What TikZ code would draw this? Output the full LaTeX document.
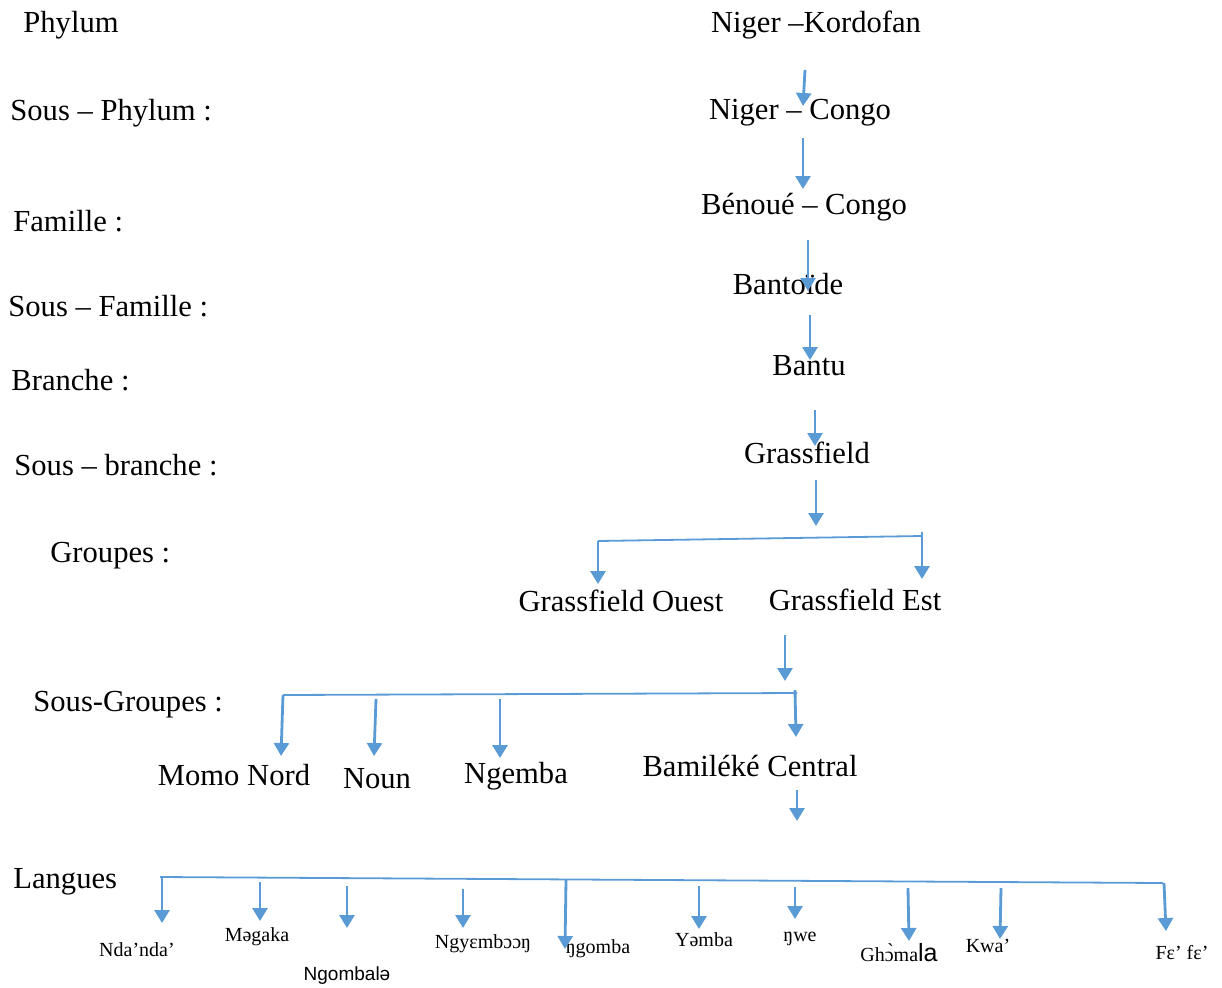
\documentclass[tikz,border=0pt]{standalone}
\usepackage{fontspec}
\setmainfont{Liberation Serif}
\newfontfamily\sansf{Liberation Sans}
\usetikzlibrary{arrows.meta}
\definecolor{arrblue}{RGB}{91,155,213}
\begin{document}
\begin{tikzpicture}[x=0.5pt,y=-0.5pt,
  lbl/.style={font=\fontsize{15.3}{18}\selectfont, inner sep=0, anchor=west, yshift=-1.5pt},
  main/.style={font=\fontsize{15.3}{18}\selectfont, inner sep=0, yshift=-1.5pt},
  small/.style={font=\fontsize{10}{12}\selectfont, inner sep=0},
  arr/.style={draw=arrblue, line width=1.4pt, -{Triangle[width=7.5pt,length=6.5pt]}},
  ln/.style={draw=arrblue, line width=0.9pt}]
\useasboundingbox (0,0) rectangle (1222,987);
% level labels
\node[lbl] (lPhylum) at (23,22) {Phylum};
\node[lbl] (lSousPhylum) at (10,110) {Sous – Phylum :};
\node[lbl] (lFamille) at (13,218) {Famille :};
\node[lbl] (lSousFamille) at (8,303) {Sous – Famille :};
\node[lbl] (lBranche) at (11,377) {Branche :};
\node[lbl] (lSousBranche) at (14,462) {Sous – branche :};
\node[lbl] (lGroupes) at (50,553) {Groupes :};
\node[lbl] (lSousGroupes) at (33,702) {Sous-Groupes :};
\node[lbl] (lLangues) at (13,879) {Langues};
% main column
\node[main] (nk) at (816,22) {Niger –Kordofan};
\node[main] (nc) at (800,110) {Niger – Congo};
\node[main] (bc) at (804,204) {Bénoué – Congo};
\node[main] (bd) at (788,281) {Bantoïde};
\node[main] (bt) at (809,363) {Bantu};
\node[main] (gf) at (807,450) {Grassfield};
\node[main] (go) at (621,598) {Grassfield Ouest};
\node[main] (ge) at (855,597) {Grassfield Est};
\node[main] (mn) at (234,772) {Momo Nord};
\node[main] (no) at (377,776) {Noun};
\node[main] (ng) at (516,773) {Ngemba};
\node[main] (bm) at (750,763) {Bamiléké Central};
% languages
\node[small] (l1) at (137,950) {Nda’nda’};
\node[small] (l2) at (257,937) {Məgaka};
\node[small,font=\sansf\fontsize{9.5}{11}\selectfont] (l3) at (347,976) {Ngombalə};
\node[small] (l4) at (483,944) {Ngyɛmbɔɔŋ};
\node[small] (l5) at (598,949) {ŋgomba};
\node[small] (l6) at (704,940) {Yəmba};
\node[small] (l7) at (800,939) {ŋwe};
\node[small] (l8) at (899,953) {Ghɔ̀ma{\sansf\fontsize{12.5}{14}\selectfont la}};
\node[small] (l9) at (988,946) {Kwa’};
\node[small] (l10) at (1182,953) {Fɛ’ fɛ’};
% arrow coordinates (main column)
\coordinate (a1s) at (805,70);  \coordinate (a1e) at (803,106);
\coordinate (a2s) at (803,138); \coordinate (a2e) at (803,189);
\coordinate (a3s) at (808,240); \coordinate (a3e) at (808,291);
\coordinate (a4s) at (810,315); \coordinate (a4e) at (810,360);
\coordinate (a5s) at (815,410); \coordinate (a5e) at (815,446);
\coordinate (a6s) at (816,480); \coordinate (a6e) at (816,526);
\draw[arr] (a1s) -- (a1e);
\draw[arr] (a2s) -- (a2e);
\draw[arr] (a3s) -- (a3e);
\draw[arr] (a4s) -- (a4e);
\draw[arr] (a5s) -- (a5e);
\draw[arr] (a6s) -- (a6e);
% groups split
\coordinate (gL) at (598,541); \coordinate (gR) at (922,536);
\coordinate (gRt) at (922,532);
\coordinate (goT) at (598,584); \coordinate (geT) at (922,579);
\draw[ln] (gL) -- (gR);
\draw[arr] (gL) -- (goT);
\draw[arr] (gRt) -- (geT);
\coordinate (a7s) at (785,635); \coordinate (a7e) at (785,681);
\draw[arr] (a7s) -- (a7e);
% sub-groups split
\coordinate (sL) at (283,695); \coordinate (sR) at (797,693);
\draw[ln] (sL) -- (sR);
\coordinate (mnT) at (281,756);
\coordinate (noS) at (376,699); \coordinate (noT) at (374,756);
\coordinate (ngS) at (500,699); \coordinate (ngT) at (500,758);
\coordinate (bmS) at (795,690); \coordinate (bmT) at (796,737);
\draw[arr] (sL) -- (mnT);
\draw[arr] (noS) -- (noT);
\draw[arr] (ngS) -- (ngT);
\draw[arr] (bmS) -- (bmT);
\coordinate (a8s) at (797,790); \coordinate (a8e) at (797,821);
\draw[arr] (a8s) -- (a8e);
% languages split
\coordinate (LL) at (160,877); \coordinate (LR) at (1163,883);
\draw[ln] (LL) -- (LR);
\coordinate (b1s) at (162,877);  \coordinate (b1e) at (162,923);
\coordinate (b2s) at (260,882);  \coordinate (b2e) at (260,921);
\coordinate (b3s) at (347,886);  \coordinate (b3e) at (347,928);
\coordinate (b4s) at (463,889);  \coordinate (b4e) at (463,928);
\coordinate (b5s) at (566,880);  \coordinate (b5e) at (565,949);
\coordinate (b6s) at (699,886);  \coordinate (b6e) at (699,929);
\coordinate (b7s) at (795,887);  \coordinate (b7e) at (795,919);
\coordinate (b8s) at (908,888);  \coordinate (b8e) at (909,941);
\coordinate (b9s) at (1001,888); \coordinate (b9e) at (1000,939);
\coordinate (b10s) at (1164,883); \coordinate (b10e) at (1166,931);
\foreach \i in {1,...,10} {\draw[arr] (b\i s) -- (b\i e);}
\end{tikzpicture}
\end{document}
